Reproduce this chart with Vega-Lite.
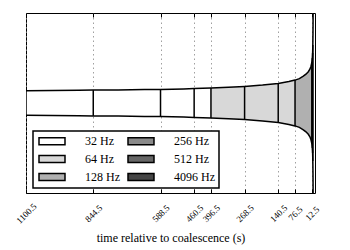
{
  "$schema": "https://vega.github.io/schema/vega-lite/v6.json",
  "autosize": "none",
  "width": 289,
  "height": 180,
  "padding": {"left": 26, "top": 13, "right": 35, "bottom": 57},
  "background": "white",
  "config": {
    "font": "Liberation Serif",
    "view": {"stroke": "#000", "strokeWidth": 1},
    "axis": {"labelFont": "Liberation Serif", "titleFont": "Liberation Serif"},
    "legend": {"strokeWidth": 1.5, "labelFont": "Liberation Serif"}
  },
  "datasets": {
    "env": [
      {"t": 1100.5, "hi": 12.2, "lo": -12.2, "band": "32 Hz"},
      {"t": 1000, "hi": 12.4, "lo": -12.4, "band": "32 Hz"},
      {"t": 900, "hi": 12.7, "lo": -12.7, "band": "32 Hz"},
      {"t": 844.5, "hi": 12.9, "lo": -12.9, "band": "32 Hz"},
      {"t": 750, "hi": 13.1, "lo": -13.1, "band": "32 Hz"},
      {"t": 650, "hi": 13.4, "lo": -13.4, "band": "32 Hz"},
      {"t": 588.5, "hi": 13.6, "lo": -13.6, "band": "32 Hz"},
      {"t": 500, "hi": 14.1, "lo": -14.1, "band": "32 Hz"},
      {"t": 460.5, "hi": 14.4, "lo": -14.4, "band": "32 Hz"},
      {"t": 396.5, "hi": 14.9, "lo": -14.9, "band": "32 Hz"},
      {"t": 396.5, "hi": 14.9, "lo": -14.9, "band": "64 Hz"},
      {"t": 330, "hi": 15.7, "lo": -15.7, "band": "64 Hz"},
      {"t": 268.5, "hi": 16.6, "lo": -16.6, "band": "64 Hz"},
      {"t": 200, "hi": 17.9, "lo": -17.9, "band": "64 Hz"},
      {"t": 140.5, "hi": 19.6, "lo": -19.6, "band": "64 Hz"},
      {"t": 100, "hi": 21.4, "lo": -21.4, "band": "64 Hz"},
      {"t": 76.5, "hi": 22.9, "lo": -22.9, "band": "64 Hz"},
      {"t": 76.5, "hi": 22.9, "lo": -22.9, "band": "128 Hz"},
      {"t": 60, "hi": 24.4, "lo": -24.4, "band": "128 Hz"},
      {"t": 45, "hi": 26.8, "lo": -26.8, "band": "128 Hz"},
      {"t": 35, "hi": 28.8, "lo": -28.8, "band": "128 Hz"},
      {"t": 26, "hi": 31.3, "lo": -31.3, "band": "128 Hz"},
      {"t": 20, "hi": 33.8, "lo": -33.8, "band": "128 Hz"},
      {"t": 16, "hi": 36.5, "lo": -36.5, "band": "128 Hz"},
      {"t": 12.5, "hi": 40.5, "lo": -40.5, "band": "128 Hz"},
      {"t": 12.5, "hi": 40.5, "lo": -40.5, "band": "256 Hz"},
      {"t": 11.5, "hi": 42.5, "lo": -42.5, "band": "256 Hz"},
      {"t": 10.5, "hi": 45, "lo": -45, "band": "256 Hz"},
      {"t": 10.5, "hi": 45, "lo": -45, "band": "512 Hz"},
      {"t": 10, "hi": 47, "lo": -47, "band": "512 Hz"},
      {"t": 9.5, "hi": 50, "lo": -50, "band": "512 Hz"},
      {"t": 9.5, "hi": 50, "lo": -50, "band": "4096 Hz"},
      {"t": 9.1, "hi": 54, "lo": -54, "band": "4096 Hz"},
      {"t": 8.8, "hi": 58, "lo": -58, "band": "4096 Hz"}
    ],
    "curve": [
      {"t": 1100.5, "hi": 12.2, "lo": -12.2},
      {"t": 1000, "hi": 12.4, "lo": -12.4},
      {"t": 900, "hi": 12.7, "lo": -12.7},
      {"t": 844.5, "hi": 12.9, "lo": -12.9},
      {"t": 750, "hi": 13.1, "lo": -13.1},
      {"t": 650, "hi": 13.4, "lo": -13.4},
      {"t": 588.5, "hi": 13.6, "lo": -13.6},
      {"t": 500, "hi": 14.1, "lo": -14.1},
      {"t": 460.5, "hi": 14.4, "lo": -14.4},
      {"t": 396.5, "hi": 14.9, "lo": -14.9},
      {"t": 330, "hi": 15.7, "lo": -15.7},
      {"t": 268.5, "hi": 16.6, "lo": -16.6},
      {"t": 200, "hi": 17.9, "lo": -17.9},
      {"t": 140.5, "hi": 19.6, "lo": -19.6},
      {"t": 100, "hi": 21.4, "lo": -21.4},
      {"t": 76.5, "hi": 22.9, "lo": -22.9},
      {"t": 60, "hi": 24.4, "lo": -24.4},
      {"t": 45, "hi": 26.8, "lo": -26.8},
      {"t": 35, "hi": 28.8, "lo": -28.8},
      {"t": 26, "hi": 31.3, "lo": -31.3},
      {"t": 20, "hi": 33.8, "lo": -33.8},
      {"t": 16, "hi": 36.5, "lo": -36.5},
      {"t": 12.5, "hi": 40.5, "lo": -40.5},
      {"t": 11.5, "hi": 42.5, "lo": -42.5},
      {"t": 10.5, "hi": 45, "lo": -45},
      {"t": 10, "hi": 47, "lo": -47},
      {"t": 9.5, "hi": 50, "lo": -50},
      {"t": 9.1, "hi": 54, "lo": -54},
      {"t": 8.8, "hi": 58, "lo": -58},
      {"t": 8.5, "hi": 63, "lo": -63},
      {"t": 8.2, "hi": 70, "lo": -70},
      {"t": 8.0, "hi": 77, "lo": -77},
      {"t": 7.8, "hi": 85, "lo": -85},
      {"t": 7.6, "hi": 95, "lo": -95}
    ],
    "bounds": [
      {"t": 1100.5, "hi": 12.2, "lo": -12.2},
      {"t": 844.5, "hi": 12.9, "lo": -12.9},
      {"t": 588.5, "hi": 13.6, "lo": -13.6},
      {"t": 460.5, "hi": 14.4, "lo": -14.4},
      {"t": 396.5, "hi": 14.9, "lo": -14.9},
      {"t": 268.5, "hi": 16.6, "lo": -16.6},
      {"t": 140.5, "hi": 19.6, "lo": -19.6},
      {"t": 76.5, "hi": 22.9, "lo": -22.9},
      {"t": 12.5, "hi": 40.5, "lo": -40.5},
      {"t": 10.5, "hi": 45, "lo": -45},
      {"t": 9.5, "hi": 50, "lo": -50},
      {"t": 8.8, "hi": 58, "lo": -58}
    ]
  },
  "resolve": {"axis": {"x": "independent"}},
  "layer": [
    {
      "data": {"name": "env"},
      "mark": {"type": "area", "opacity": 1, "clip": true, "interpolate": "linear"},
      "encoding": {
        "x": {
          "field": "t", "type": "quantitative",
          "scale": {"domain": [1100.5, 0.5], "nice": false, "zero": false},
          "axis": {
            "values": [1100.5, 844.5, 588.5, 460.5, 396.5, 268.5, 140.5, 76.5, 12.5],
            "format": ".1f",
            "labelAngle": -45, "labelAlign": "center", "labelBaseline": "middle",
            "labelPadding": 24, "labelFontSize": 9, "labelColor": "#000",
            "labelOverlap": false, "labelFlush": false, "labelBound": false,
            "tickSize": -4, "tickColor": "#000", "tickWidth": 1,
            "domain": false,
            "grid": true, "gridDash": [1.5, 3], "gridColor": "#888", "gridWidth": 0.8,
            "title": "time relative to coalescence (s)",
            "titleFontSize": 12, "titleFontWeight": "normal", "titleColor": "#000", "titlePadding": 7
          }
        },
        "y": {
          "field": "hi", "type": "quantitative",
          "scale": {"domain": [-90, 90], "nice": false, "zero": false},
          "axis": {
            "title": "strain amplitude", "labels": false, "ticks": false, "grid": false, "domain": false,
            "titleFontSize": 12, "titleFontWeight": "normal", "titleColor": "#000", "titlePadding": 3
          }
        },
        "y2": {"field": "lo"},
        "color": {
          "field": "band", "type": "nominal",
          "scale": {
            "domain": ["32 Hz", "64 Hz", "128 Hz", "256 Hz", "512 Hz", "4096 Hz"],
            "range": ["#ffffff", "#d8d8d8", "#b0b0b0", "#8a8a8a", "#666666", "#454545"]
          },
          "legend": {
            "title": null, "orient": "none", "legendX": 7, "legendY": 118, "columns": 2,
            "symbolType": "M-3.714,-1L3.714,-1L3.714,1L-3.714,1Z", "symbolSize": 49,
            "symbolOffset": 9, "symbolStrokeColor": "#000", "symbolStrokeWidth": 1.5, "symbolOpacity": 1,
            "labelOffset": 27, "labelFontSize": 12, "labelFont": "Liberation Serif", "labelColor": "#000",
            "columnPadding": 5, "rowPadding": 4, "padding": 4,
            "strokeColor": "#000", "fillColor": "#fff"
          }
        }
      }
    },
    {
      "data": {"name": "curve"},
      "mark": {"type": "line", "color": "#000", "strokeWidth": 1.5, "clip": true},
      "encoding": {
        "x": {"field": "t", "type": "quantitative", "scale": {"domain": [1100.5, 0.5], "nice": false, "zero": false}, "axis": null},
        "y": {"field": "hi", "type": "quantitative", "axis": null}
      }
    },
    {
      "data": {"name": "curve"},
      "mark": {"type": "line", "color": "#000", "strokeWidth": 1.5, "clip": true},
      "encoding": {
        "x": {"field": "t", "type": "quantitative", "scale": {"domain": [1100.5, 0.5], "nice": false, "zero": false}, "axis": null},
        "y": {"field": "lo", "type": "quantitative", "axis": null}
      }
    },
    {
      "data": {"name": "bounds"},
      "mark": {"type": "rule", "color": "#000", "strokeWidth": 1.5, "clip": true},
      "encoding": {
        "x": {
          "field": "t", "type": "quantitative",
          "scale": {"domain": [1100.5, 0.5], "nice": false, "zero": false},
          "axis": {
            "orient": "top", "labels": false, "title": null, "grid": false, "domain": false,
            "tickSize": -4, "tickColor": "#000", "tickWidth": 1,
            "values": [1100.5, 844.5, 588.5, 460.5, 396.5, 268.5, 140.5, 76.5, 12.5]
          }
        },
        "y": {"field": "hi", "type": "quantitative", "axis": null},
        "y2": {"field": "lo"}
      }
    }
  ]
}
